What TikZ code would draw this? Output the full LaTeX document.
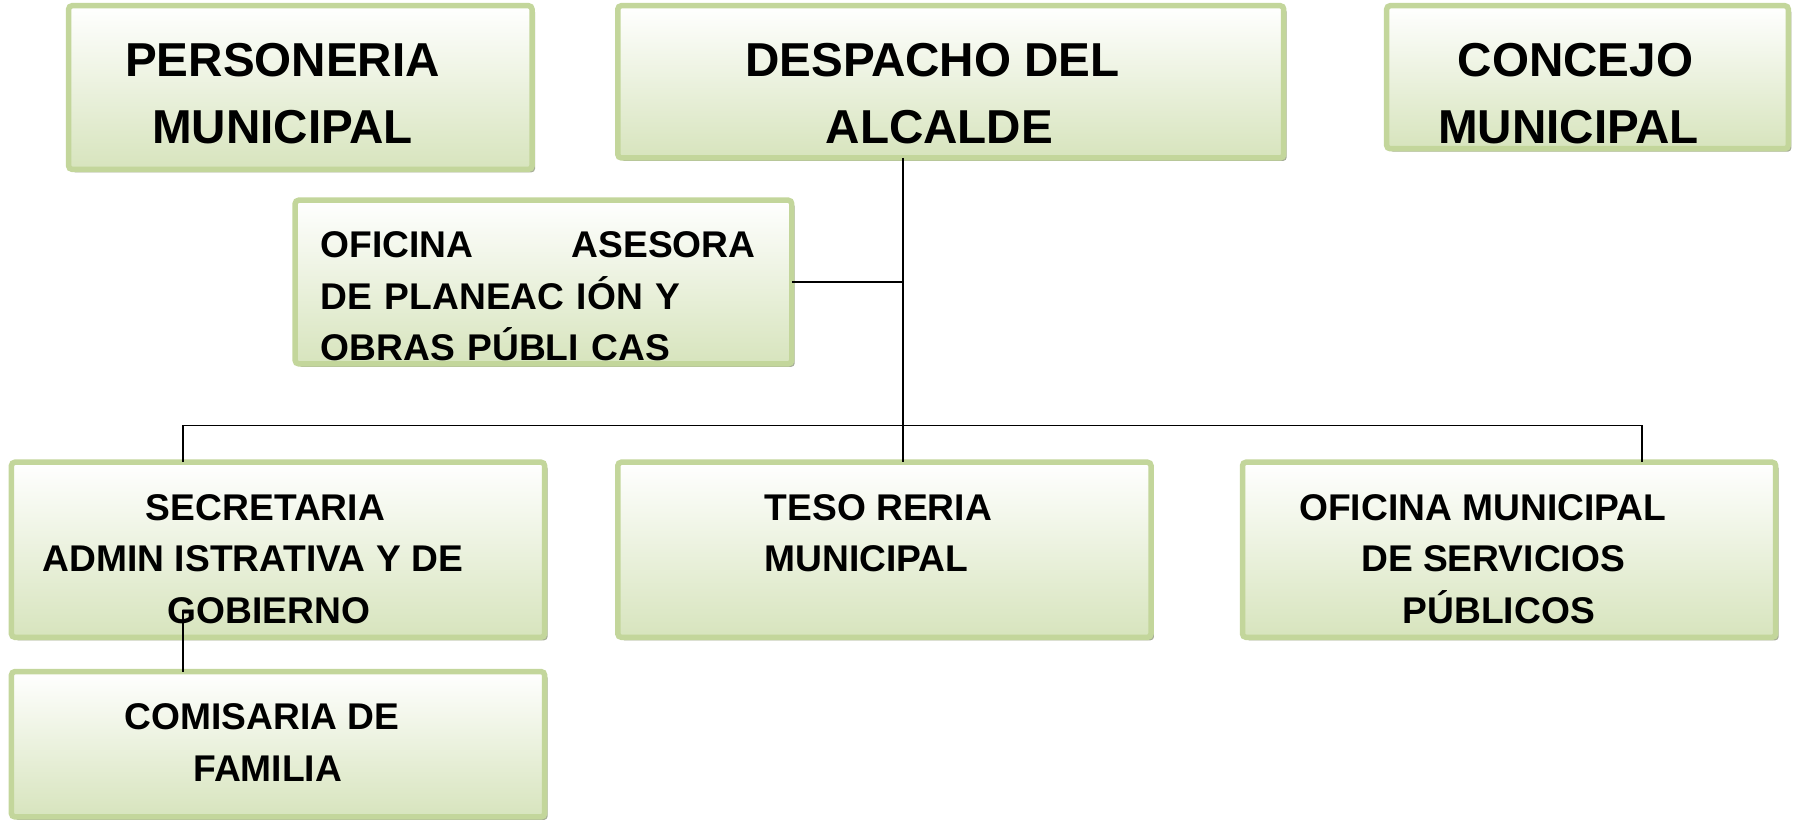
\documentclass[tikz,border=0pt]{standalone}
\usepackage{fontspec}
\setmainfont{Liberation Sans}
\usetikzlibrary{fit,shadows}
\definecolor{boxline}{HTML}{C3D69B}
\definecolor{boxfill}{HTML}{D7E4BD}
\definecolor{boxshadow}{HTML}{A6AD97}
\tikzset{
  box/.style={draw=boxline, line width=2.4pt, rounded corners=1.5pt,
    top color=white, bottom color=boxfill, inner sep=0pt, outer sep=0pt,
    drop shadow={shadow xshift=1.3pt, shadow yshift=-1.3pt, fill=boxshadow, opacity=1}},
  bigtxt/.style={font=\bfseries\fontsize{20.8}{29.5}\selectfont, align=center, inner sep=0pt},
  smalltxt/.style={font=\bfseries\fontsize{16.25}{22.5}\selectfont, align=center, inner sep=0pt},
  link/.style={draw=black, line width=0.7pt}
}
\begin{document}
\begin{tikzpicture}[x=0.5pt, y=-0.5pt]
  \useasboundingbox (0,0) rectangle (1568,718);
  % top row
  \node[box, fit={(60,5) (465,148)}] (pers) {};
  \node[bigtxt] (pers-t) at (247,82) {PERSONERIA\\MUNICIPAL};
  \node[box, fit={(540,5) (1122,138)}] (desp) {};
  \node[bigtxt] (desp-t) at (815,82) {DESPACHO DEL\\\hspace*{6pt}ALCALDE};
  \node[box, fit={(1212,5) (1563,130)}] (conc) {};
  \node[bigtxt] (conc-t) at (1371,82) {\hspace*{6pt}CONCEJO\\MUNICIPAL};
  % advisory office
  \node[box, fit={(258,175) (692,318)}] (ases) {};
  \node[smalltxt, align=left, text width=190pt, anchor=west] (ases-t) at (280,259)
    {OFICINA\hfill ASESORA\\DE PLANEAC IÓN Y\\OBRAS PÚBLI CAS};
  % second row
  \node[box, fit={(10,404) (476,557)}] (sec) {};
  \node[smalltxt] (sec-t) at (221,488.5)
    {\hspace*{11pt}SECRETARIA\\ADMIN ISTRATIVA Y DE\\\hspace*{14pt}GOBIERNO};
  \node[box, fit={(540,404) (1006,557)}] (teso) {};
  \node[smalltxt, align=left, anchor=west] (teso-t) at (668,466) {TESO RERIA\\MUNICIPAL};
  \node[box, fit={(1086,404) (1552,557)}] (ofi) {};
  \node[smalltxt] (ofi-t) at (1296,488.5)
    {OFICINA MUNICIPAL\\\hspace*{9pt}DE SERVICIOS\\\hspace*{14pt}PÚBLICOS};
  \node[box, fit={(10,587) (476,714)}] (com) {};
  \node[smalltxt] (com-t) at (229,649) {COMISARIA DE\\\hspace*{5pt}FAMILIA};
  % connectors
  \coordinate (trunk) at (789,372);
  \coordinate (busL) at (160,372);
  \coordinate (busR) at (1435,372);
  \coordinate (gob) at (160,533);
  \draw[link] (desp.south -| trunk) -- (teso.north -| trunk);
  \draw[link] (ases.east) -- (ases.east -| trunk);
  \draw[link] (sec.north -| busL) -- (busL) -- (busR) -- (ofi.north -| busR);
  \draw[link] (gob) -- (com.north -| gob);
\end{tikzpicture}
\end{document}
